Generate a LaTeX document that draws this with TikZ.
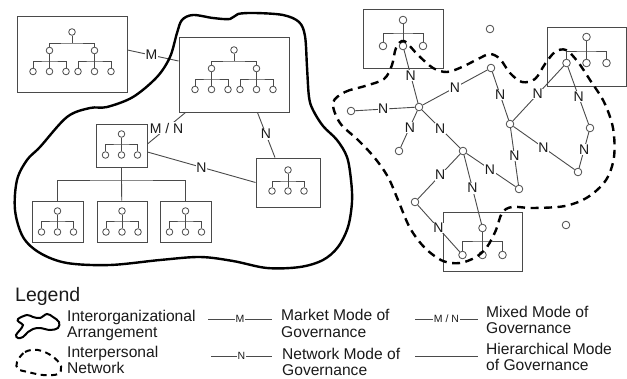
\documentclass[tikz,border=0pt]{standalone}
\usepackage{fontspec}
\setmainfont{Liberation Sans}
\usetikzlibrary{calc}
\definecolor{lc}{HTML}{4A4A4A}
\definecolor{tc}{HTML}{1A1A1A}
\newcommand\SmallOrg[9]{%
  \pgfmathsetmacro\cxA{(#2+#4)/2}%
  \pgfmathsetmacro\cyA{(#3+#5)/2}%
  \pgfmathsetmacro\wA{#4-#2}%
  \pgfmathsetmacro\hA{#5-#3}%
  \node[orgbox, minimum width=\wA pt, minimum height=\hA pt] (#1) at (\cxA,\cyA) {};
  \node[oc] (#1t) at (\cxA,#6) {};
  \coordinate (#1bar) at (\cxA,#7);
  \node[oc] (#1p1) at (\cxA-#9,#8) {};
  \node[oc] (#1p2) at (\cxA,#8) {};
  \node[oc] (#1p3) at (\cxA+#9,#8) {};
  \draw[orgline] (#1t) -- (#1p2);
  \draw[orgline] (#1p1) |- (#1bar) -| (#1p3);
}
\newcommand\BigOrg[8]{%
  \pgfmathsetmacro\cxA{(#2+#4)/2}%
  \pgfmathsetmacro\cyA{(#3+#5)/2}%
  \pgfmathsetmacro\wA{#4-#2}%
  \pgfmathsetmacro\hA{#5-#3}%
  \pgfmathsetmacro\myA{#7+7.5}%
  \pgfmathsetmacro\lyA{#8+10.5}%
  \node[orgbox, minimum width=\wA pt, minimum height=\hA pt] (#1) at (\cxA,\cyA) {};
  \node[oc] (#1t) at (\cxA,#6) {};
  \coordinate (#1bar) at (\cxA,#7);
  \node[oc] (#1m1) at (\cxA-22.5,\myA) {};
  \node[oc] (#1m2) at (\cxA+22.5,\myA) {};
  \coordinate (#1c1) at (\cxA-22.5,#8);
  \coordinate (#1c2) at (\cxA+22.5,#8);
  \node[oc] (#1p1) at (\cxA-39,\lyA) {};
  \node[oc] (#1p2) at (\cxA-22.5,\lyA) {};
  \node[oc] (#1p3) at (\cxA-6,\lyA) {};
  \node[oc] (#1p4) at (\cxA+6,\lyA) {};
  \node[oc] (#1p5) at (\cxA+22.5,\lyA) {};
  \node[oc] (#1p6) at (\cxA+39,\lyA) {};
  \draw[orgline] (#1t) -- (#1bar);
  \draw[orgline] (#1m1) |- (#1bar) -| (#1m2);
  \draw[orgline] (#1m1) -- (#1p2);
  \draw[orgline] (#1m2) -- (#1p5);
  \draw[orgline] (#1p1) |- (#1c1) -| (#1p3);
  \draw[orgline] (#1p4) |- (#1c2) -| (#1p6);
}
\begin{document}
\begin{tikzpicture}[x=1pt,y=-1pt,
  orgbox/.style={draw=lc, line width=0.9pt, inner sep=0pt},
  oc/.style={circle, draw=lc, fill=white, line width=0.8pt, inner sep=0pt, minimum size=6.6pt},
  nc/.style={circle, draw=lc, fill=white, line width=0.8pt, inner sep=0pt, minimum size=7.6pt},
  orgline/.style={draw=lc, line width=0.8pt},
  conn/.style={draw=lc, line width=0.9pt},
  lab/.style={fill=white, inner sep=0.6pt, text=tc, font=\fontsize{14}{14}\selectfont},
  leglab/.style={fill=white, inner sep=0.5pt, text=tc, font=\fontsize{10.5}{10.5}\selectfont},
  legtext/.style={anchor=base west, inner sep=0pt, text=tc, font=\fontsize{15.6}{17}\selectfont},
  thickblob/.style={draw=black, line width=2.4pt},
  dashblob/.style={draw=black, line width=2.4pt, dash pattern=on 8pt off 5.5pt},
]
\fill[white] (0,0) rectangle (627,378);
\useasboundingbox (0,0) rectangle (627,378);

% ---------- left: interorganizational arrangement ----------
\BigOrg{A}{17}{16}{127}{92}{32}{43}{61}
\BigOrg{B}{179}{37}{289}{112}{50}{61}{79}
\SmallOrg{C}{96}{124}{147}{167}{134}{144}{155}{16}
\SmallOrg{D}{256}{158}{320}{207}{170}{181}{191}{16}
\SmallOrg{Ea}{32}{201}{83}{242}{211}{221}{232}{16}
\SmallOrg{Eb}{97}{201}{147}{242}{211}{221}{232}{16}
\SmallOrg{Ec}{160}{201}{211}{242}{211}{221}{232}{16}

\draw[conn] ([yshift=4pt]A.east) -- node[lab,pos=0.47]{M} ([yshift=13.5pt]B.west);
\draw[conn] ([yshift=1.5pt]C.east) -- node[lab,pos=0.5]{M / N} ([xshift=7pt]B.south west);
\draw[conn] ([xshift=-32pt]B.south east) -- node[lab,pos=0.48]{N} ([xshift=-13pt]D.north);
\draw[conn] ([yshift=-6.5pt]C.east) -- node[lab,pos=0.5]{N} (D.west);
\coordinate (Cbranch) at (121.5,180);
\draw[conn] (C) -- (Cbranch);
\draw[conn] (Ea) |- (Cbranch) -| (Ec);
\draw[conn] (Cbranch) -- (Eb);

\draw[thickblob] plot[smooth cycle, tension=0.55] coordinates {
 (182,20) (193,15) (213,18) (230,19) (238,14) (255,13) (283,15) (299,22) (305,36)
 (307,67) (309,97) (313,110) (323,126) (337,140) (347,157) (351,180) (352,202)
 (348,227) (338,247) (323,260) (300,267) (267,268) (233,261) (200,257) (160,260)
 (110,265) (67,263) (40,253) (23,237) (15,210) (17,180) (27,160) (40,147) (67,117)
 (90,108) (107,107) (133,97) (157,77) (170,57) (177,33)};

% ---------- right: interpersonal network ----------
\begin{scope}[oc/.append style={minimum size=7.6pt}]
\SmallOrg{F}{363}{9}{443}{68}{20}{33}{46}{20}
\SmallOrg{G}{547}{27}{626}{86}{37}{51}{63}{20}
\SmallOrg{H}{443}{212}{522}{271}{228}{241}{255}{20}
\end{scope}

\node[nc] (n1) at (419,107) {};
\node[nc] (n2) at (351,111) {};
\node[nc] (n3) at (491,68) {};
\node[nc] (n4) at (399,151) {};
\node[nc] (n5) at (463,151) {};
\node[nc] (n6) at (510,124) {};
\node[nc] (n7) at (590,128) {};
\node[nc] (n8) at (578,172) {};
\node[nc] (n9) at (519,189) {};
\node[nc] (n10) at (415,202) {};
\node[nc] (iso1) at (490,29) {};
\node[nc] (iso2) at (566,225) {};

\draw[conn] (Fp2) -- node[lab,pos=0.48]{N} (n1);
\draw[conn] (n2) -- node[lab,pos=0.47]{N} (n1);
\draw[conn] (n1) -- node[lab,pos=0.5]{N} (n3);
\draw[conn] (n1) -- node[lab,pos=0.45]{N} (n4);
\draw[conn] (n1) -- node[lab,pos=0.48]{N} (n5);
\draw[conn] (n3) -- node[lab,pos=0.48]{N} (n6);
\draw[conn] (n6) -- node[lab,pos=0.49]{N} (Gp1);
\draw[conn] (Gp1) -- node[lab,pos=0.52]{N} (n7);
\draw[conn] (n7) -- node[lab,pos=0.48]{N} (n8);
\draw[conn] (n6) -- node[lab,pos=0.49]{N} (n8);
\draw[conn] (n6) -- node[lab,pos=0.49]{N} (n9);
\draw[conn] (n5) -- node[lab,pos=0.48]{N} (n9);
\draw[conn] (n5) -- node[lab,pos=0.47]{N} (n10);
\draw[conn] (n5) -- node[lab,pos=0.48]{N} (Ht);
\draw[conn] (n10) -- node[lab,pos=0.49]{N} (Hp1);

\draw[dashblob] plot[smooth cycle, tension=0.55] coordinates {
 (333,103) (345,92) (365,86) (384,79) (392,65) (396,48) (404,41) (418,55) (433,68)
 (447,72) (462,67) (478,59) (490,54) (500,59) (510,73) (522,82) (535,79) (545,64)
 (555,52) (566,50) (578,62) (590,80) (604,102) (613,128) (614,157) (606,180)
 (588,197) (565,206) (533,208) (512,207) (502,213) (496,230) (487,247) (476,257)
 (460,263) (443,261) (425,248) (410,228) (398,200) (388,177) (374,157) (358,140)
 (340,123)};

% ---------- legend ----------
\node[legtext, font=\fontsize{19.5}{19.5}\selectfont] (legt) at (15,301) {Legend};
\draw[line width=2pt] plot[smooth cycle, tension=0.6] coordinates {
 (18,319) (27,315) (33,317) (40,318) (47,314) (53,317) (59,322) (58,328) (50,330)
 (40,328) (33,329) (28,332) (23,337) (18,338) (16,335) (20,330) (23,325) (19,322)};
\draw[line width=2pt, dash pattern=on 6pt off 4.5pt] plot[smooth cycle, tension=0.6] coordinates {
 (17,362) (25,352) (38,350) (52,356) (61,366) (58,374) (43,375) (28,372) (18,369)};
\node[legtext] (l1a) at (67,321) {Interorganizational};
\node[legtext] (l1b) at (67,337) {Arrangement};
\node[legtext] (l2a) at (67,357) {Interpersonal};
\node[legtext] (l2b) at (67,373) {Network};

\coordinate (mA) at (208,319); \coordinate (mB) at (272,319);
\draw[conn, line width=0.8pt] (mA) -- node[leglab]{M} (mB);
\coordinate (nA) at (211,356); \coordinate (nB) at (272,356);
\draw[conn, line width=0.8pt] (nA) -- node[leglab]{N} (nB);
\node[legtext] (l3a) at (281,320) {Market Mode of};
\node[legtext] (l3b) at (281,337) {Governance};
\node[legtext] (l4a) at (282,359) {Network Mode of};
\node[legtext] (l4b) at (282,375) {Governance};

\coordinate (xA) at (415,319); \coordinate (xB) at (478,319);
\draw[conn, line width=0.8pt] (xA) -- node[leglab]{M / N} (xB);
\coordinate (hA) at (415,356); \coordinate (hB) at (478,356);
\draw[conn, line width=0.8pt] (hA) -- (hB);
\node[legtext] (l5a) at (486,317) {Mixed Mode of};
\node[legtext] (l5b) at (486,333) {Governance};
\node[legtext] (l6a) at (486,354) {Hierarchical Mode};
\node[legtext] (l6b) at (486,370) {of Governance};
\end{tikzpicture}
\end{document}
